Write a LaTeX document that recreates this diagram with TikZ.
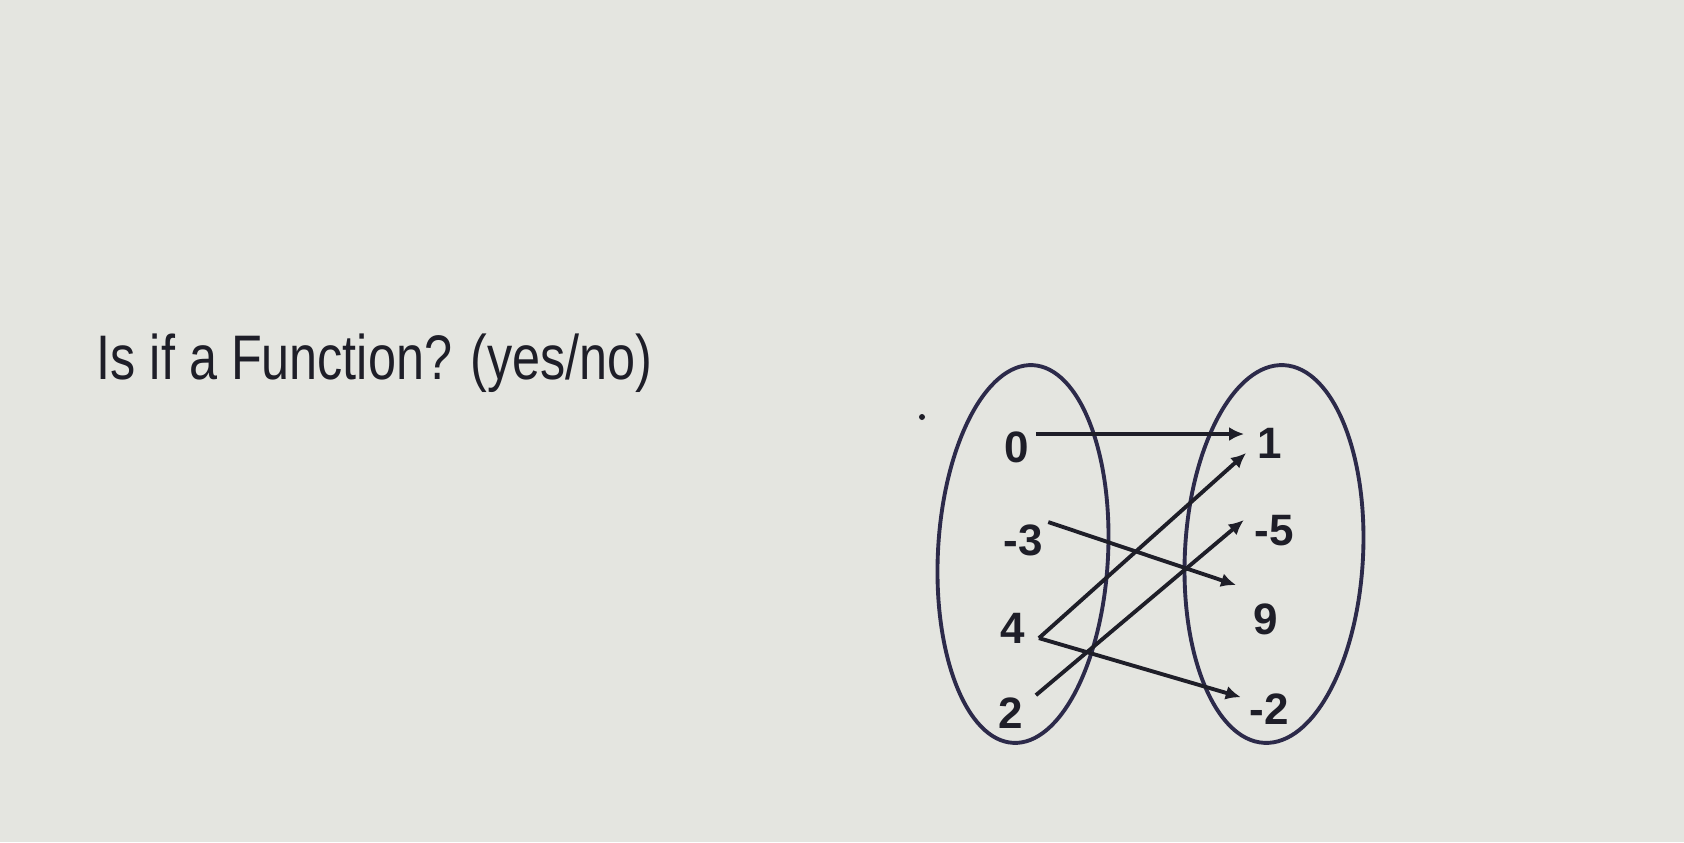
\documentclass[tikz,border=0pt]{standalone}
\usepackage{fontspec}
\usepackage{tikz}
\usetikzlibrary{positioning, arrows.meta, shapes.geometric}
\newfontfamily\qfont[FakeStretch=0.8]{Liberation Sans}
\newfontfamily\numfont{Liberation Sans}
\definecolor{paper}{RGB}{228,229,224}
\definecolor{ink}{RGB}{30,30,40}
\definecolor{rim}{RGB}{44,42,74}

\begin{document}
\begin{tikzpicture}[x=0.01cm, y=-0.01cm, node distance=0.88cm,
    num/.style={inner sep=0pt, text=ink, font=\numfont\fontsize{12.5}{14}\selectfont\bfseries},
    set/.style={ellipse, draw=rim, line width=1.1pt, inner sep=0pt, rotate=-3},
    arr/.style={-{Latex[length=1.5mm, width=1.4mm]}, draw=ink, line width=1.1pt}]
    \fill[paper] (0,0) rectangle (1684,842);
    \useasboundingbox (0,0) rectangle (1684,842);

    % Question
    \node (question) [anchor=base west, inner sep=0pt, text=ink,
        font=\qfont\fontsize{17.9}{20}\selectfont] at (96,379) {Is if a Function? (yes/no)};
    \fill[ink] (922,417) circle (0.03cm);

    % Sets
    \node (domain) [set, minimum width=1.7cm, minimum height=3.78cm] at (1023,554) {};
    \node (range) [set, minimum width=1.78cm, minimum height=3.78cm] at (1274,554) {};

    % Nodes
    \node (d0) [num] at (1017,447) {0};
    \node (dm3) [num, below of=d0, xshift=0.06cm, yshift=-0.05cm] {-3};
    \node (d4) [num, below of=dm3, xshift=-0.1cm] {4};
    \node (d2) [num, below of=d4, xshift=-0.02cm, yshift=0.03cm] {2};
    \node (r1) [num] at (1270,443) {1};
    \node (rm5) [num, below of=r1, xshift=0.04cm] {-5};
    \node (r9) [num, below of=rm5, xshift=-0.08cm] {9};
    \node (rm2) [num, below of=r9, xshift=0.03cm, yshift=-0.02cm] {-2};

    % Arrows
    \draw[arr] ([shift={(6,-13)}]d0.east) -- ([shift={(-13,-9)}]r1.west);
    \draw[arr] ([shift={(5,-18)}]dm3.east) -- ([shift={(-17,-34)}]r9.west);
    \draw[arr] ([shift={(13,10)}]d4.east) -- ([shift={(-11,10)}]r1.west);
    \draw[arr] ([shift={(13,10)}]d4.east) -- ([shift={(-8,-12)}]rm2.west);
    \draw[arr] ([shift={(12,-18)}]d2.east) -- ([shift={(-10,-11)}]rm5.west);
\end{tikzpicture}
\end{document}
